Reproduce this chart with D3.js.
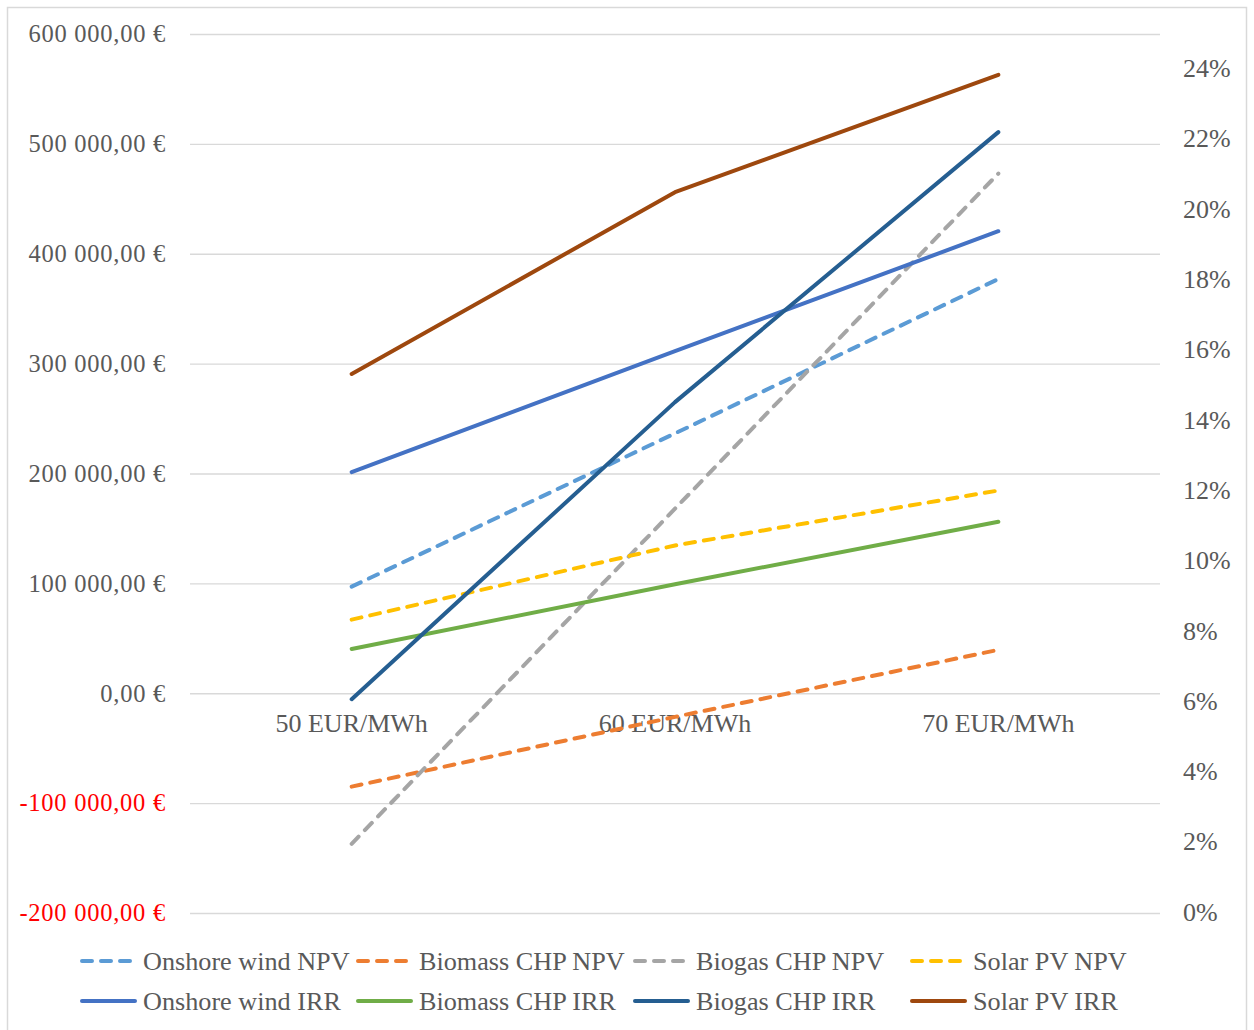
<!DOCTYPE html>
<html>
<head>
<meta charset="utf-8">
<script src="https://cdn.jsdelivr.net/npm/d3@7"></script>
<style>
  html, body { margin: 0; padding: 0; background: #fff; }
  svg text { font-family: "Liberation Serif", "Times New Roman", serif; fill: #595959; }
</style>
</head>
<body>
<svg id="chart" width="1254" height="1030"></svg>
<script>
// Feed-in price scenarios
const categories = ["50 EUR/MWh", "60 EUR/MWh", "70 EUR/MWh"];

// Net present value (EUR), primary axis
const onshoreWindNPV = [97000, 236500, 377000];
const biomassChpNPV  = [-85000, -21500, 39500];
const biogasChpNPV   = [-137000, 168000, 473000];
const solarPvNPV     = [67000, 134500, 184500];

// Internal rate of return, secondary axis
const onshoreWindIRR = [0.1254, 0.1598, 0.1939];
const biomassChpIRR  = [0.0751, 0.0935, 0.1113];
const biogasChpIRR   = [0.0608, 0.1453, 0.2221];
const solarPvIRR     = [0.1533, 0.2050, 0.2384];

const npvTicks = [-200000, -100000, 0, 100000, 200000, 300000, 400000, 500000, 600000];
const irrTicks = [0, 0.02, 0.04, 0.06, 0.08, 0.10, 0.12, 0.14, 0.16, 0.18, 0.20, 0.22, 0.24];

const series = [
  { name: "Onshore wind NPV", values: onshoreWindNPV, axis: "npv", color: "#5B9BD5", dashed: true },
  { name: "Biomass CHP NPV",  values: biomassChpNPV,  axis: "npv", color: "#ED7D31", dashed: true },
  { name: "Biogas CHP NPV",   values: biogasChpNPV,   axis: "npv", color: "#A5A5A5", dashed: true },
  { name: "Solar PV NPV",     values: solarPvNPV,     axis: "npv", color: "#FFC000", dashed: true },
  { name: "Onshore wind IRR", values: onshoreWindIRR, axis: "irr", color: "#4472C4", dashed: false },
  { name: "Biomass CHP IRR",  values: biomassChpIRR,  axis: "irr", color: "#70AD47", dashed: false },
  { name: "Biogas CHP IRR",   values: biogasChpIRR,   axis: "irr", color: "#255E91", dashed: false },
  { name: "Solar PV IRR",     values: solarPvIRR,     axis: "irr", color: "#9E480E", dashed: false }
];

const svg = d3.select("#chart");
const plot = { left: 190, right: 1160, top: 34, bottom: 913 };

// outer chart frame
svg.append("rect")
  .attr("x", 7.5).attr("y", 7.5).attr("width", 1239).attr("height", 1030)
  .attr("fill", "none").attr("stroke", "#d9d9d9").attr("stroke-width", 1.5);

const x = d3.scaleBand().domain(categories).range([plot.left, plot.right]).padding(0);
const yNpv = d3.scaleLinear().domain([-200000, 600000]).range([plot.bottom, plot.top]);
const yIrr = d3.scaleLinear().domain([0, 0.25]).range([plot.bottom, plot.top]);

const fmtEur = v => {
  const s = d3.format(",.2f")(Math.abs(v)).replace(/,/g, " ").replace(".", ",");
  return (v < 0 ? "-" : "") + s + " €";
};

// primary axis with gridlines
const leftAxis = d3.axisLeft(yNpv).tickValues(npvTicks)
  .tickSize(-(plot.right - plot.left)).tickPadding(24).tickFormat(fmtEur);
const gL = svg.append("g").attr("transform", `translate(${plot.left},0)`).call(leftAxis);
gL.select(".domain").remove();
gL.selectAll(".tick line").attr("stroke", "#d9d9d9").attr("stroke-width", 1.3);
gL.selectAll(".tick text")
  .attr("font-size", 24.5)
  .attr("letter-spacing", "0.75px")
  .style("fill", d => d < 0 ? "#FF0000" : "#595959");

// secondary axis
const rightAxis = d3.axisRight(yIrr).tickValues(irrTicks).tickSize(0).tickPadding(23)
  .tickFormat(d3.format(".0%"));
const gR = svg.append("g").attr("transform", `translate(${plot.right},0)`).call(rightAxis);
gR.select(".domain").remove();
gR.selectAll(".tick text").attr("font-size", 26).attr("dy", "0.28em");

// category labels sit just under the zero line
const gX = svg.append("g").attr("transform", `translate(0,${yNpv(0)})`)
  .call(d3.axisBottom(x).tickSize(0).tickPadding(20));
gX.select(".domain").remove();
gX.selectAll(".tick text").attr("font-size", 26);

const dash = "10,9";
const lineFor = s => d3.line()
  .x((d, i) => x(categories[i]) + x.bandwidth() / 2)
  .y(d => s.axis === "npv" ? yNpv(d) : yIrr(d));

svg.append("g").selectAll("path").data(series).join("path")
  .attr("d", s => lineFor(s)(s.values))
  .attr("fill", "none")
  .attr("stroke", s => s.color)
  .attr("stroke-width", 4)
  .attr("stroke-linecap", "round")
  .attr("stroke-linejoin", "round")
  .attr("stroke-dasharray", s => s.dashed ? dash : null);

// legend: two rows of four
const legendX = [80, 356, 633, 910];
const legendY = [961, 1001];
const leg = svg.append("g").selectAll("g").data(series).join("g")
  .attr("transform", (s, i) => `translate(${legendX[i % 4]},${legendY[Math.floor(i / 4)]})`);
leg.append("line")
  .attr("x1", 2).attr("x2", 55).attr("y1", 0).attr("y2", 0)
  .attr("stroke", s => s.color).attr("stroke-width", 4)
  .attr("stroke-linecap", "round")
  .attr("stroke-dasharray", s => s.dashed ? dash : null);
leg.append("text")
  .attr("x", 63).attr("y", 0).attr("dy", "0.35em")
  .attr("font-size", 26.2)
  .text(s => s.name);
</script>
</body>
</html>
